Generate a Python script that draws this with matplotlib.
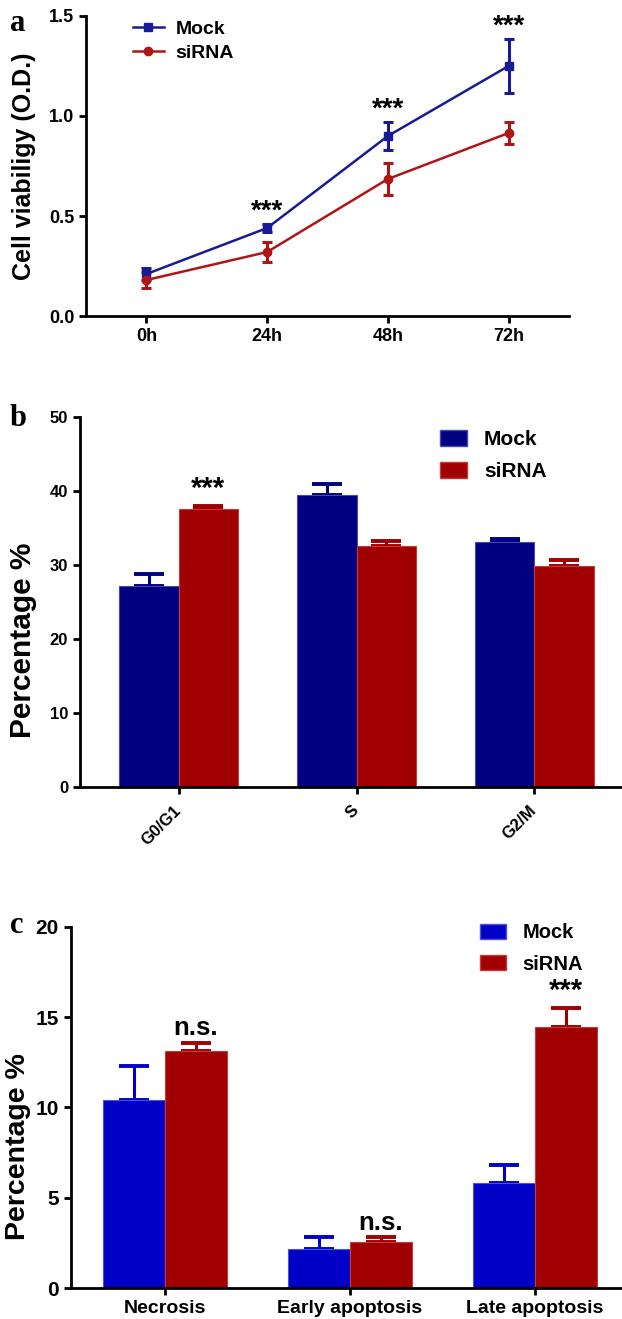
import numpy as np
import matplotlib
matplotlib.use('Agg')
import matplotlib.pyplot as plt
from matplotlib.patches import Patch
from matplotlib.lines import Line2D

plt.rcParams['font.family'] = ['Liberation Sans', 'DejaVu Sans']
plt.rcParams['font.weight'] = 'bold'

# panel a: cell viability
time_labels = ['0h', '24h', '48h', '72h']
mock_od = [0.21, 0.44, 0.90, 1.25]
mock_od_err = [0.03, 0.02, 0.07, 0.135]
sirna_od = [0.18, 0.32, 0.685, 0.915]
sirna_od_err = [0.04, 0.05, 0.08, 0.055]
od_stars = ['', '***', '***', '***']

# panel b: cell cycle
phase_labels = ['G0/G1', 'S', 'G2/M']
mock_cycle = [27.2, 39.5, 33.1]
mock_cycle_err = [1.6, 1.5, 0.4]
sirna_cycle = [37.5, 32.6, 29.8]
sirna_cycle_err = [0.5, 0.6, 0.9]
cycle_marks = ['***', '', '']

# panel c: apoptosis
apop_labels = ['Necrosis', 'Early apoptosis', 'Late apoptosis']
mock_apop = [10.4, 2.15, 5.8]
mock_apop_err = [1.9, 0.68, 1.03]
sirna_apop = [13.15, 2.55, 14.46]
sirna_apop_err = [0.45, 0.25, 1.04]
apop_marks = ['n.s.', 'n.s.', '***']

NAVY = '#1a1a96'
RED = '#b01515'
BAR_NAVY = '#000080'
BAR_BLUE = '#0000c8'
BAR_RED = '#a00000'


def style_axes(ax, tick_size):
    for s in ['top', 'right']:
        ax.spines[s].set_visible(False)
    for s in ['left', 'bottom']:
        ax.spines[s].set_linewidth(2)
    ax.tick_params(width=2, length=5, labelsize=tick_size)
    for lab in ax.get_xticklabels() + ax.get_yticklabels():
        lab.set_fontweight('bold')


fig = plt.figure(figsize=(6.22, 13.19), dpi=100)

# ---- a ----
ax1 = fig.add_axes([0.1383, 0.7604, 0.9148 - 0.1383, 0.9879 - 0.7604])
x = np.arange(len(time_labels))
ax1.errorbar(x, mock_od, yerr=mock_od_err, color=NAVY, marker='s', ms=6,
             lw=1.8, elinewidth=2.2, capsize=3.5, capthick=2.2, label='Mock')
ax1.errorbar(x, sirna_od, yerr=sirna_od_err, color=RED, marker='o', ms=6,
             lw=1.8, elinewidth=2.2, capsize=3.5, capthick=2.2, label='siRNA')
for i, s in enumerate(od_stars):
    if s:
        ax1.text(x[i], mock_od[i] + mock_od_err[i] - 0.005, s, ha='center',
                 va='bottom', fontsize=20, fontweight='bold')
ax1.set_xlim(-0.5, 3.5)
ax1.set_ylim(0, 1.5)
ax1.set_xticks(x)
ax1.set_xticklabels(time_labels)
ax1.set_yticks([0, 0.5, 1.0, 1.5])
ax1.set_yticklabels(['0.0', '0.5', '1.0', '1.5'])
ax1.set_ylabel('Cell viabiligy (O.D.)', fontsize=18, fontweight='bold')
ax1.yaxis.set_label_coords(-0.104, 0.5)
style_axes(ax1, 13)
h1 = [Line2D([], [], color=NAVY, marker='s', ms=6, lw=1.8),
      Line2D([], [], color=RED, marker='o', ms=6, lw=1.8)]
ax1.legend(h1, ['Mock', 'siRNA'], loc='upper left', bbox_to_anchor=(0.06, 1.045),
           frameon=False, handlelength=1.6, handletextpad=0.6, labelspacing=0.35,
           prop={'weight': 'bold', 'size': 14})
fig.text(0.016, 0.993, 'a', family='Liberation Serif', fontsize=22,
         fontweight='bold', va='top')


def bar_panel(rect, labels, mock, mock_err, sirna, sirna_err, marks, mock_col,
              mock_edge, ylim, yticks, xlim, tick_size, label_rot, legend_anchor,
              leg_size, mark_size, label_y, label_size):
    ax = fig.add_axes(rect)
    xs = np.arange(len(labels))
    w = 1 / 3
    ax.bar(xs - w / 2, mock, w, color=mock_col, edgecolor=mock_edge, lw=0.8,
           label='Mock', zorder=2)
    ax.bar(xs + w / 2, sirna, w, color=BAR_RED, edgecolor='#c83a3a', lw=0.8,
           label='siRNA', zorder=2)
    ax.errorbar(xs - w / 2, mock, yerr=[np.zeros(len(mock)), mock_err], fmt='none',
                ecolor=mock_col, elinewidth=2.2, capsize=11, capthick=2.8, zorder=1)
    ax.errorbar(xs + w / 2, sirna, yerr=[np.zeros(len(sirna)), sirna_err], fmt='none',
                ecolor=BAR_RED, elinewidth=2.2, capsize=11, capthick=2.8, zorder=1)
    for i, m in enumerate(marks):
        if m:
            ax.text(xs[i] + w / 2, sirna[i] + sirna_err[i] + ylim[1] * 0.008, m,
                    ha='center', va='bottom', fontsize=mark_size[m],
                    fontweight='bold')
    ax.set_xlim(*xlim)
    ax.set_ylim(*ylim)
    ax.set_yticks(yticks)
    ax.set_xticks(xs)
    if label_rot:
        ax.set_xticklabels(labels, rotation=label_rot, ha='right', va='center',
                           rotation_mode='anchor')
    else:
        ax.set_xticklabels(labels)
    ax.set_ylabel('Percentage %', fontsize=label_size, fontweight='bold')
    ax.yaxis.set_label_coords(*label_y)
    style_axes(ax, tick_size)
    h = [Patch(facecolor=mock_col, edgecolor=mock_edge),
         Patch(facecolor=BAR_RED, edgecolor='#c83a3a')]
    ax.legend(h, ['Mock', 'siRNA'], loc='upper left', bbox_to_anchor=legend_anchor,
              frameon=False, handlelength=1.3, handleheight=0.8, handletextpad=0.8,
              labelspacing=0.6, prop={'weight': 'bold', 'size': leg_size})
    return ax


ax2 = bar_panel([0.1286, 0.4033, 1.0 - 0.1286, 0.6839 - 0.4033], phase_labels,
                mock_cycle, mock_cycle_err, sirna_cycle, sirna_cycle_err,
                cycle_marks, BAR_NAVY, '#4848b0', (0, 50), [0, 10, 20, 30, 40, 50],
                (-0.555, 2.493), 12, 45, (0.63, 1.015), 15,
                {'***': 21}, (-0.08, 0.397), 21.5)
ax2.tick_params(axis='x', labelsize=12, pad=10)
fig.text(0.016, 0.694, 'b', family='Liberation Serif', fontsize=22,
         fontweight='bold', va='top')

ax3 = bar_panel([0.1137, 0.0235, 1.0 - 0.1137, 0.2972 - 0.0235], apop_labels,
                mock_apop, mock_apop_err, sirna_apop, sirna_apop_err,
                apop_marks, BAR_BLUE, '#5050e0', (0, 20), [0, 5, 10, 15, 20],
                (-0.509, 2.47), 15, 0, (0.71, 1.06), 14.5,
                {'***': 21, 'n.s.': 18.5}, (-0.072, 0.393), 20.5)
ax3.tick_params(axis='x', labelsize=14)
fig.text(0.016, 0.309, 'c', family='Liberation Serif', fontsize=22,
         fontweight='bold', va='top')

fig.savefig('out.png', dpi=100)
